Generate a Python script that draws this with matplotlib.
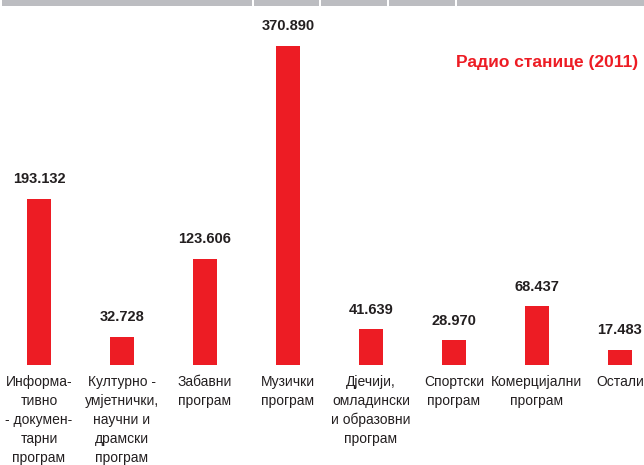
import matplotlib
matplotlib.use("Agg")
import matplotlib.pyplot as plt
from matplotlib.patches import Rectangle

categories = [
    "Информа-\nтивно\n- докумен-\nтарни\nпрограм",
    "Културно -\nумјетнички,\nнаучни и\nдрамски\nпрограм",
    "Забавни\nпрограм",
    "Музички\nпрограм",
    "Дјечији,\nомладински\nи образовни\nпрограм",
    "Спортски\nпрограм",
    "Комерцијални\nпрограм",
    "Остали",
]
values = [193.132, 32.728, 123.606, 370.890, 41.639, 28.970, 68.437, 17.483]
value_labels = ["193.132", "32.728", "123.606", "370.890", "41.639", "28.970", "68.437", "17.483"]
title = "Радио станице (2011)"

RED = "#ed1c24"
INK = "#231f20"
W, H = 644, 465

fig = plt.figure(figsize=(W / 100, H / 100), dpi=100)
base = 365
ax = fig.add_axes([0, (H - base) / H, 1, base / H])
x = list(range(len(values)))
ax.bar(x, values, width=0.29, color=RED)
ax.set_xlim(-39 / 83, 7 + 24 / 83)
ax.set_ylim(0, base / 0.8601)
ax.axis("off")

for xi, v, lab in zip(x, values, value_labels):
    ax.annotate(lab, (xi, v), xytext=(0, 9), textcoords="offset points",
                ha="center", va="bottom", fontsize=10.5, fontweight="bold",
                family="Liberation Sans", color=INK)

for xi, cat in zip(x, categories):
    ax.annotate(cat, (xi, 0), xytext=(0, -7), textcoords="offset points",
                ha="center", va="top", fontsize=10, linespacing=1.45,
                family="Liberation Sans", color=INK, annotation_clip=False)

fig.text(638 / W, 1 - 62 / H, title, ha="right", va="center", fontsize=12.5,
         fontweight="bold", color=RED, family="Liberation Sans")

# grey strip at the top
fig.patches.append(Rectangle((2 / W, 1 - 6 / H), 1, 6 / H, transform=fig.transFigure,
                             facecolor="#bcbdc1", edgecolor="none"))
for px in [252, 319, 387, 455]:
    fig.patches.append(Rectangle((px / W, 1 - 6 / H), 1.5 / W, 6 / H, transform=fig.transFigure,
                                 facecolor="white", edgecolor="none", zorder=3))

fig.savefig("out.png", dpi=100)
